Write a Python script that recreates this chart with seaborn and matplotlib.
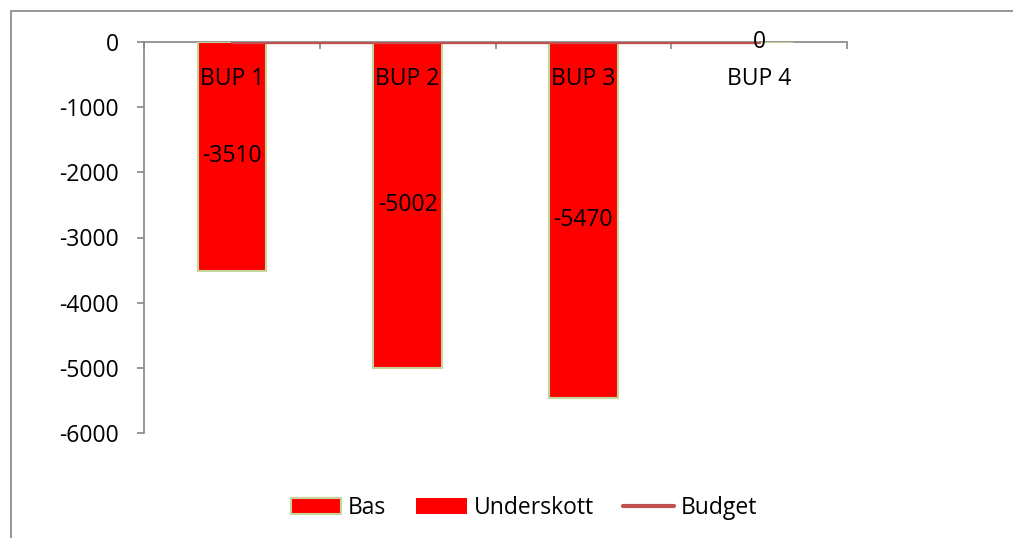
import numpy as np
import pandas as pd
import matplotlib
matplotlib.use("Agg")
import matplotlib.pyplot as plt
import seaborn as sns
from matplotlib.patches import Patch, Rectangle
from matplotlib.lines import Line2D

# --- data ---
categories = ["BUP 1", "BUP 2", "BUP 3", "BUP 4"]
bas = [-3510, -5002, -5470, 0]
budget = [0, 0, 0, 0]
y_ticks = [0, -1000, -2000, -3000, -4000, -5000, -6000]

RED = "#FF0000"
EDGE = "#C3D69B"
LINE = "#C0504D"
GREY = "#868686"
FS = 16.5

sns.set_theme(style="white")
plt.rcParams["font.family"] = ["Open Sans", "DejaVu Sans"]
plt.rcParams["text.color"] = "black"

df = pd.DataFrame({"cat": categories, "bas": bas})

fig = plt.figure(figsize=(10.13, 5.38), dpi=100)
ax = fig.add_axes([144 / 1013, 1 - 433 / 538, (847 - 144) / 1013, (433 - 42) / 538])

sns.barplot(data=df, x="cat", y="bas", color=RED, saturation=1, width=0.39,
            edgecolor=EDGE, linewidth=1.5, ax=ax, zorder=2)
sns.lineplot(x=np.arange(len(categories)), y=budget, color=LINE, linewidth=2.4,
             ax=ax, zorder=3)

ax.bar_label(ax.containers[0], labels=[str(v) for v in bas], label_type="center",
             fontsize=FS, color="black", zorder=4)

ax.set_axisbelow(False)
ax.set_ylim(-6000, 0)
ax.set_xlim(-0.5, 3.5)
ax.set_yticks(y_ticks)
ax.set_yticklabels([str(t) for t in y_ticks], fontsize=FS)
ax.set_xlabel("")
ax.set_ylabel("")

# x axis sits on the zero line at the top, labels below it
ax.xaxis.tick_top()
ax.set_xticks(range(len(categories)))
ax.set_xticklabels(categories, fontsize=FS)
ax.set_xticks(np.arange(-0.5, 4, 1), minor=True)
ax.tick_params(axis="x", which="major", length=0, pad=-35, labelcolor="black")
ax.tick_params(axis="x", which="minor", direction="in", length=5, color=GREY, width=1.2, top=True)
ax.tick_params(axis="y", direction="out", length=5, color=GREY, width=1.2, left=True, pad=13,
               labelcolor="black")

for s in ["right", "bottom"]:
    ax.spines[s].set_visible(False)
for s in ["left", "top"]:
    ax.spines[s].set_color(GREY)
    ax.spines[s].set_linewidth(1.2)
ax.spines["top"].set_zorder(1)

handles = [
    Patch(facecolor=RED, edgecolor=EDGE, linewidth=1.5, label="Bas"),
    Patch(facecolor=RED, edgecolor="none", label="Underskott"),
    Line2D([0], [0], color=LINE, linewidth=3, solid_capstyle="round", label="Budget"),
]
fig.legend(handles=handles, loc="center", bbox_to_anchor=(524 / 1013, 1 - 508 / 538),
           ncol=3, frameon=False, fontsize=FS, handlelength=2.2, handleheight=0.65,
           columnspacing=1.3, handletextpad=0.3, labelcolor="black")

# outer chart frame
fig.patches.append(Rectangle((11 / 1013, -0.1), 1.1, 1 - 11 / 538 + 0.1,
                             transform=fig.transFigure, fill=False,
                             edgecolor=GREY, linewidth=1.2))

fig.savefig("out.png", dpi=100)
